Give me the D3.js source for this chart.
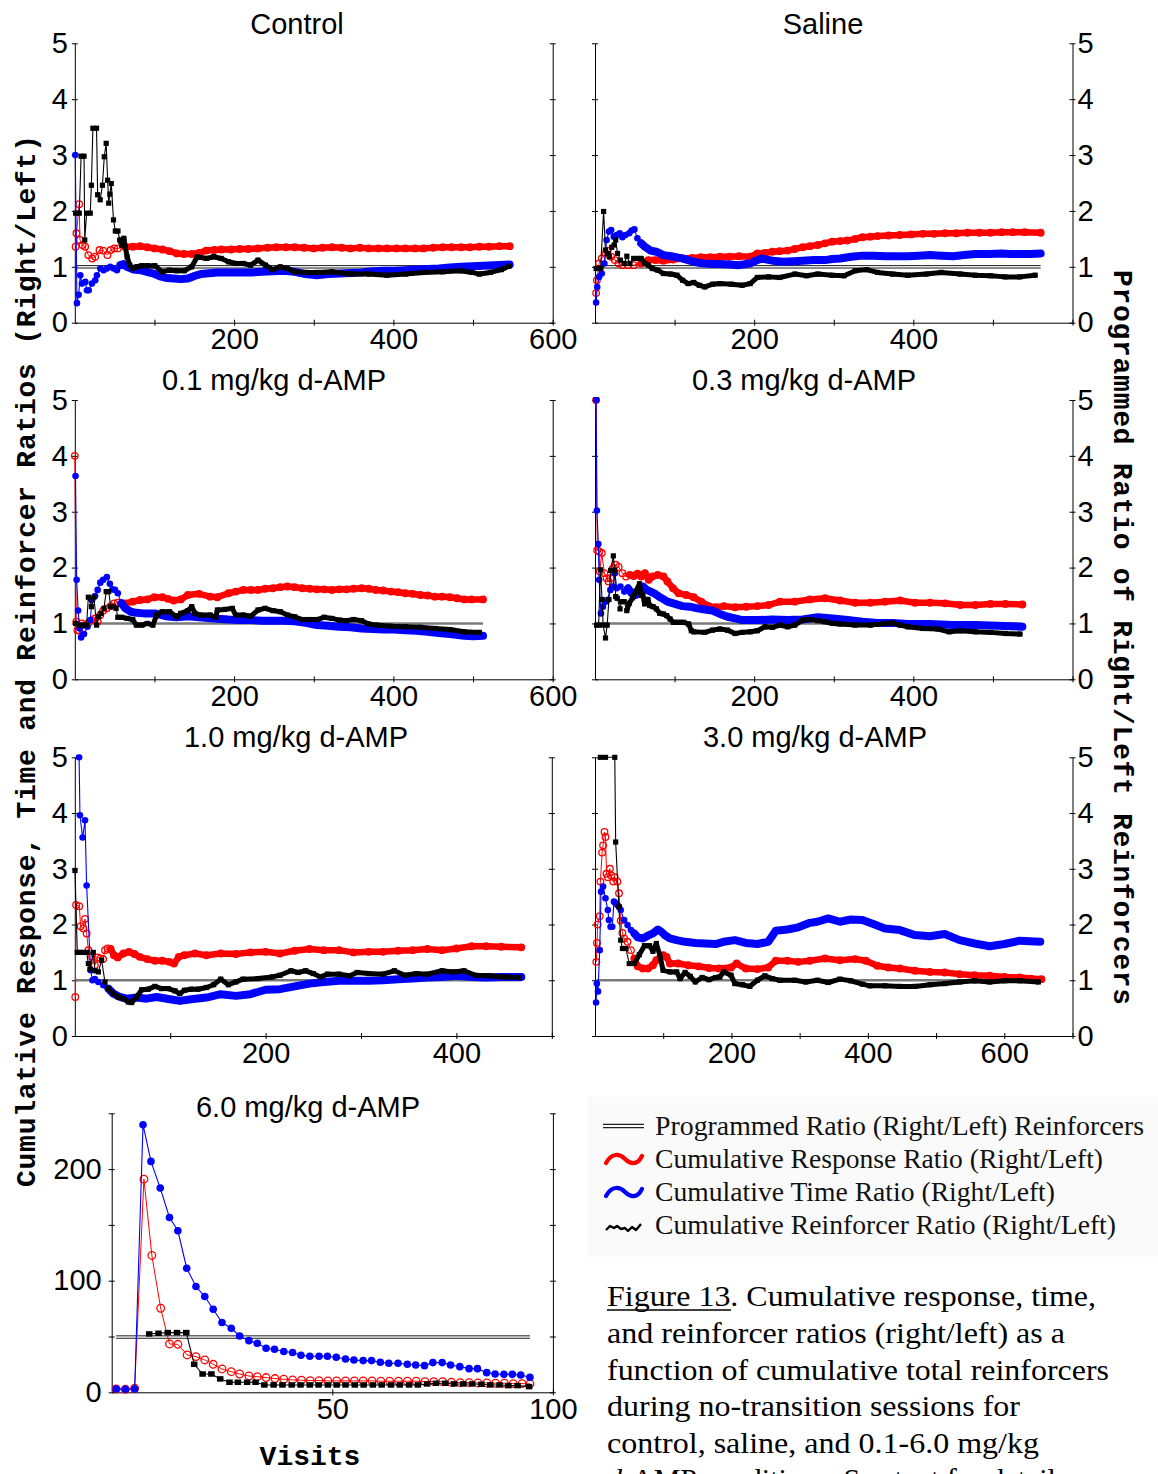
<!DOCTYPE html>
<html><head><meta charset="utf-8">
<script src="https://cdn.jsdelivr.net/npm/d3@7"></script>
<style>body{margin:0;background:#fff} svg{display:block}</style>
</head><body>
<svg id="c" width="1158" height="1474"></svg>
<script>
// ---------------- DATA ----------------
const panelTitles = ["Control","Saline","0.1 mg/kg d-AMP","0.3 mg/kg d-AMP","1.0 mg/kg d-AMP","3.0 mg/kg d-AMP","6.0 mg/kg d-AMP"];
const programmed = [1,1,1,1,1,1,49.5];
const xDomains = [[0,600],[0,600],[0,600],[0,600],[0,500],[0,700],[0,100]];
const yDomains = [[0,5],[0,5],[0,5],[0,5],[0,5],[0,5],[0,250]];
const xTickValues = [[100,200,300,400,500,600],[100,200,300,400,500,600],[100,200,300,400,500,600],[100,200,300,400,500,600],[100,200,300,400,500],[100,200,300,400,500,600,700],[50,100]];
const xTickLabels = [[200,400,600],[200,400],[200,400,600],[200,400],[200,400],[200,400,600],[50,100]];
const yTickValues = [[0,1,2,3,4,5],[0,1,2,3,4,5],[0,1,2,3,4,5],[0,1,2,3,4,5],[0,1,2,3,4,5],[0,1,2,3,4,5],[0,50,100,150,200,250]];
const yTickLabels = [[0,1,2,3,4,5],[0,1,2,3,4,5],[0,1,2,3,4,5],[0,1,2,3,4,5],[0,1,2,3,4,5],[0,1,2,3,4,5],[0,100,200]];

const ctrlResp = [[1,1.36],[2,1.6],[5.5,2.12],[6.5,1.48],[9.7,1.39],[13,1.36],[17,1.21],[21.8,1.15],[25.5,1.18],[31,1.3],[35.6,1.29],[41,1.21],[45,1.3],[49.5,1.33],[54,1.33],[63,1.36],[73,1.36],[82,1.37],[91,1.35],[100,1.33],[110,1.31],[119,1.28],[128,1.24],[137,1.23],[147,1.23],[156,1.25],[165,1.29],[175,1.3],[184,1.31],[196,1.31],[207,1.32],[218,1.32],[230,1.33],[242,1.34],[253,1.35],[265,1.35],[276,1.35],[288,1.34],[300,1.33],[311,1.34],[323,1.35],[335,1.34],[346,1.33],[358,1.34],[369,1.33],[381,1.33],[392,1.33],[404,1.33],[415,1.33],[427,1.33],[438,1.33],[450,1.34],[462,1.35],[473,1.35],[485,1.35],[496,1.35],[508,1.36],[520,1.36],[533,1.37],[546,1.37]];
const ctrlTime = [[0.6,3.0],[2.7,0.35],[4.8,0.5],[6.9,0.85],[9,0.7],[13.2,0.73],[15.3,0.58],[17.4,0.58],[21.5,0.7],[25.7,0.76],[27.8,0.85],[32,0.97],[36.2,0.94],[40.4,0.97],[44.5,1.0],[48.7,0.97],[52.9,0.94],[57.1,1.03],[61.3,1.05],[65.5,1.0],[73.8,0.95],[82.2,0.94],[90.6,0.91],[99,0.88],[107,0.83],[115,0.8],[124,0.79],[133,0.78],[142,0.79],[151,0.84],[158,0.87],[165,0.88],[179,0.9],[193,0.9],[207,0.9],[221,0.9],[235,0.91],[249,0.92],[262,0.93],[276,0.91],[290,0.87],[304,0.85],[318,0.87],[332,0.88],[346,0.89],[360,0.9],[374,0.92],[388,0.93],[401,0.93],[415,0.94],[429,0.95],[443,0.96],[457,0.97],[471,0.99],[485,1.0],[499,1.01],[513,1.02],[527,1.03],[546,1.04]];
const ctrlRein = [[1,1.96],[5.6,1.96],[7.9,2.98],[11.6,2.98],[12.5,1.48],[14.8,1.96],[19.4,1.96],[20.8,2.46],[22.7,3.48],[27.3,3.48],[28.7,2.29],[31.9,2.2],[34.7,2.46],[37,2.97],[39.4,3.21],[41.2,2.55],[42.6,2.14],[44,2.3],[45.8,2.49],[48.6,1.84],[50.9,1.64],[54.2,1.64],[56.5,1.48],[58.8,1.39],[61.6,1.51],[63.4,1.36],[65.7,1.18],[69,1.03],[72.7,0.97],[77.3,1.0],[84.3,1.02],[91.2,1.02],[100.5,1.02],[109.7,0.91],[119,0.94],[128.2,0.93],[137.5,0.93],[146.8,1.0],[153.7,1.18],[165.3,1.15],[174.5,1.18],[183.8,1.15],[193,1.09],[202.3,1.06],[211.6,1.06],[220.8,1.03],[230,1.12],[239.4,1.03],[248.6,0.95],[257.9,1.0],[267,0.97],[276.4,0.91],[290.3,0.9],[304.2,0.9],[322.7,0.91],[345.8,0.87],[369,0.87],[392,0.85],[415.3,0.87],[438.4,0.9],[461.6,0.91],[484.7,0.93],[498.6,0.9],[507.9,0.87],[521.8,0.9],[535.6,0.95],[545,1.01]];

const salResp = [[1.4,0.53],[2.4,0.76],[5.2,1.06],[8.5,1.15],[13.2,1.24],[15.6,1.29],[20.3,1.18],[25,1.12],[29.7,1.06],[34.4,1.03],[41.5,1.03],[48.6,1.03],[58,1.06],[67,1.12],[76,1.12],[86,1.11],[98,1.13],[110,1.15],[122,1.16],[133,1.17],[145,1.17],[157,1.18],[169,1.18],[181,1.19],[195,1.18],[204,1.24],[214,1.25],[223,1.27],[232,1.28],[242,1.29],[251,1.32],[261,1.35],[270,1.37],[280,1.39],[289,1.42],[298,1.45],[308,1.46],[317,1.47],[327,1.5],[336,1.53],[346,1.54],[355,1.55],[369,1.56],[383,1.57],[397,1.58],[412,1.59],[426,1.59],[440,1.6],[454,1.6],[468,1.61],[483,1.61],[497,1.61],[511,1.62],[525,1.62],[540,1.62],[560,1.61]];
const salTime = [[1.4,0.36],[2.8,0.64],[5.2,0.82],[8.5,0.88],[11.8,1.06],[14.6,1.48],[17.5,1.63],[20.3,1.66],[23.6,1.54],[27.4,1.57],[31,1.6],[34.4,1.53],[38.2,1.57],[43,1.6],[46,1.65],[49.5,1.67],[53.3,1.51],[58,1.42],[62.7,1.36],[70,1.29],[77,1.27],[86,1.21],[95.8,1.19],[103,1.17],[110,1.15],[117,1.12],[124,1.09],[131,1.07],[138,1.06],[148,1.05],[157,1.05],[169,1.04],[181,1.03],[190,1.05],[195,1.06],[202,1.11],[209,1.15],[216,1.13],[223,1.11],[230,1.1],[237,1.09],[249,1.1],[261,1.11],[275,1.12],[289,1.12],[298,1.14],[308,1.15],[322,1.18],[336,1.2],[350,1.2],[365,1.19],[379,1.19],[393,1.19],[407,1.2],[421,1.21],[435,1.2],[450,1.19],[464,1.21],[478,1.23],[495,1.23],[511,1.24],[522,1.23],[534,1.23],[547,1.23],[560,1.24]];
const salRein = [[1.4,0.97],[3.8,0.97],[7,0.97],[10.8,1.99],[13.2,1.3],[15.6,1.24],[18,1.18],[21,1.35],[24,1.39],[26,1.48],[28.3,1.24],[32,1.12],[36.8,1.06],[40,1.19],[43.9,1.06],[48.6,1.15],[53.3,1.15],[58,1.15],[62.7,1.06],[67,1.03],[72,0.97],[79,0.94],[86,0.88],[95,0.87],[103,0.85],[110,0.76],[117,0.7],[124,0.72],[131,0.67],[138,0.64],[148,0.69],[157,0.7],[171,0.69],[185,0.67],[195,0.7],[204,0.81],[218,0.82],[232,0.81],[251,0.87],[266,0.84],[280,0.87],[298,0.85],[313,0.84],[327,0.93],[341,0.95],[355,0.9],[374,0.87],[393,0.85],[416,0.87],[435,0.9],[459,0.87],[478,0.85],[497,0.84],[515,0.82],[534,0.82],[553,0.85]];

const d01Resp = [[0,4.0],[1.9,1.03],[3.2,0.88],[5.5,0.87],[8.8,1.0],[12.5,0.97],[17,1.01],[21.8,1.06],[25.5,1.09],[28.7,1.03],[32,1.15],[35.6,1.23],[40,1.27],[45,1.31],[49.5,1.36],[54,1.37],[63,1.36],[72.7,1.39],[82,1.42],[91,1.43],[100,1.47],[110,1.47],[117,1.44],[124,1.41],[133,1.43],[142,1.51],[156,1.53],[170,1.48],[179,1.47],[193,1.54],[202,1.57],[211.6,1.6],[221,1.6],[230,1.6],[239,1.62],[248.6,1.63],[258,1.65],[267,1.66],[276,1.65],[285.6,1.63],[295,1.62],[304,1.61],[313,1.61],[322.7,1.6],[332,1.61],[341,1.61],[350,1.62],[360,1.63],[369,1.62],[378,1.6],[387,1.59],[397,1.57],[406,1.56],[415,1.54],[424,1.53],[434,1.51],[443,1.5],[452,1.48],[461,1.48],[471,1.47],[480,1.45],[489,1.43],[498,1.43],[512.5,1.43]];
const d01Time = [[0.9,3.64],[2.3,1.78],[4.2,1.23],[6,0.91],[7.9,0.75],[11.6,0.81],[16,0.94],[19.4,1.06],[21.8,1.42],[25.5,1.49],[28.7,1.6],[32,1.73],[35.6,1.78],[40.3,1.83],[44,1.71],[47.2,1.61],[50.5,1.6],[54,1.54],[58.8,1.36],[63.4,1.27],[70.4,1.21],[77.3,1.19],[86.6,1.18],[100.5,1.18],[114,1.13],[128,1.11],[142,1.13],[156,1.11],[174.5,1.09],[193,1.07],[207,1.06],[221,1.06],[235,1.05],[248.6,1.05],[262,1.05],[276,1.04],[290,1.01],[304,0.97],[318,0.96],[332,0.94],[346,0.93],[360,0.91],[374,0.9],[387.5,0.89],[401,0.89],[415,0.88],[429,0.87],[443,0.85],[457,0.83],[471,0.81],[489,0.78],[500,0.77],[512.5,0.78]];
const d01Rein = [[1,1.0],[5.6,0.97],[10.2,0.97],[14.8,0.97],[17,1.47],[20.8,1.3],[24,1.47],[27.3,0.97],[30,1.12],[33,1.18],[36.6,1.27],[39.4,1.57],[42.6,1.57],[45,1.3],[48.6,1.3],[51.9,1.27],[54,1.11],[58.8,1.11],[65.7,1.09],[72.7,1.07],[77.3,0.97],[84.3,0.97],[91,1.0],[98,0.97],[102.8,1.15],[109.7,1.21],[119,1.21],[128,1.12],[133,1.18],[142,1.23],[146.8,1.3],[151,1.18],[158,1.15],[170,1.15],[177,1.11],[179,1.24],[188,1.25],[197.7,1.27],[202,1.15],[211.6,1.15],[221,1.13],[230,1.24],[239,1.27],[248.6,1.23],[258,1.21],[267,1.15],[276,1.12],[285.6,1.07],[295,1.07],[304,1.07],[313,1.11],[322.7,1.09],[332,1.06],[341,1.05],[350,1.07],[360,1.05],[369,0.99],[378,0.97],[397,0.95],[415,0.94],[434,0.93],[452,0.91],[471,0.89],[489,0.85],[508,0.84]];

const d03Resp = [[1.4,5.0],[2.8,2.31],[5.2,2.29],[6,1.93],[8.5,2.26],[11.8,1.9],[14.6,1.81],[17,1.75],[19.5,1.81],[22.6,1.99],[26,2.05],[29.7,2.01],[34.4,1.9],[39,1.84],[43.9,1.87],[48.6,1.85],[53.3,1.89],[58,1.84],[62.7,1.9],[67.5,1.78],[72,1.84],[79,1.87],[86,1.84],[91,1.75],[98,1.63],[105,1.54],[114.6,1.51],[124,1.47],[133.5,1.39],[143,1.31],[152,1.29],[162,1.31],[176,1.29],[190,1.3],[204,1.31],[218,1.33],[232.5,1.39],[251,1.39],[270,1.43],[289,1.45],[308,1.41],[327,1.37],[346,1.37],[364.6,1.39],[383.5,1.41],[402,1.37],[421,1.37],[440,1.36],[459,1.33],[478,1.33],[497,1.35],[515.6,1.35],[537,1.34]];
const d03Time = [[1.4,5.0],[2.4,3.02],[4.2,2.42],[5.2,1.78],[7.5,1.18],[10,1.3],[13.2,1.39],[15.6,1.42],[19.3,1.6],[22.6,1.66],[25,1.9],[27.4,1.63],[32,1.66],[36.8,1.57],[41.5,1.63],[46,1.54],[51,1.51],[55.7,1.61],[60.4,1.66],[65,1.6],[69.8,1.57],[74.5,1.54],[81.6,1.47],[91,1.39],[100.5,1.35],[110,1.31],[119,1.3],[128.8,1.27],[138,1.25],[147.6,1.23],[157,1.17],[166.5,1.12],[176,1.09],[185,1.06],[204,1.06],[223,1.07],[242,1.06],[261,1.07],[280,1.11],[298.6,1.09],[317.5,1.06],[336,1.03],[355,1.01],[374,1.01],[393,0.99],[421,0.99],[450,0.97],[478,0.97],[506,0.96],[537,0.94]];
const d03Rein = [[2,0.97],[4.6,0.97],[6.8,1.96],[8.9,1.43],[10.2,0.97],[13.2,0.74],[15.3,0.97],[17.5,1.43],[19.6,1.95],[23,2.21],[24.7,1.95],[26,1.48],[28,1.45],[31.5,1.26],[33.2,1.39],[36.7,1.39],[40,1.23],[43,1.36],[47.3,1.46],[51.6,1.58],[55.9,1.71],[58,1.5],[60,1.52],[62.3,1.35],[66.5,1.43],[68.7,1.32],[72.9,1.3],[77.2,1.26],[81.5,1.18],[85.7,1.17],[90,1.14],[94.3,1.08],[98.6,1.02],[105,1.02],[111.3,1.02],[117.7,0.99],[121,0.87],[124,0.85],[138,0.84],[147.6,0.88],[157,0.9],[166.5,0.88],[176,0.82],[185,0.84],[195,0.85],[204,0.87],[213.7,0.94],[223,0.93],[232.5,0.97],[242,0.94],[251,0.97],[261,1.06],[270,1.07],[280,1.05],[289,1.03],[298.6,1.0],[308,0.99],[327,0.97],[346,0.97],[364.6,1.0],[374,1.01],[383.5,0.97],[393,0.94],[412,0.91],[430.7,0.9],[445,0.85],[459,0.87],[478,0.85],[497,0.84],[515.6,0.82],[534,0.81]];

const d10Resp = [[0.5,0.7],[1.3,2.35],[4.7,2.33],[6.1,1.97],[9,1.93],[10.7,2.1],[12.4,1.84],[14.3,1.54],[18,1.42],[21,1.27],[24,1.41],[26.6,1.39],[29.7,1.38],[31.7,1.54],[34.4,1.57],[37.5,1.56],[41,1.45],[45,1.41],[51,1.48],[56.8,1.51],[62.5,1.47],[68,1.42],[76,1.38],[84,1.35],[91.5,1.35],[99,1.33],[104,1.3],[109,1.42],[114.7,1.45],[126,1.48],[138,1.45],[153,1.48],[169,1.47],[184,1.5],[200,1.51],[215,1.48],[230.5,1.53],[246,1.56],[261,1.54],[277,1.54],[292,1.5],[308,1.51],[323,1.51],[339,1.53],[354,1.54],[369.5,1.56],[385,1.54],[400,1.57],[416,1.61],[431,1.61],[447,1.6],[468,1.59]];
const d10Time = [[4.5,5.0],[5.4,3.96],[8.2,3.56],[10.7,3.87],[12.4,2.7],[16.6,1.18],[18.5,1.0],[21,1.02],[24.6,0.97],[29.9,0.91],[35.2,0.85],[40.4,0.76],[47.3,0.7],[54.3,0.67],[64.8,0.69],[75.3,0.67],[85.8,0.7],[99.7,0.66],[110,0.63],[122,0.66],[138,0.69],[153,0.75],[169,0.72],[184,0.75],[200,0.83],[215,0.84],[230.5,0.89],[246,0.94],[261,0.97],[277,0.99],[292,0.99],[308,0.99],[323,1.0],[339,1.02],[354,1.03],[369.5,1.05],[385,1.06],[400,1.08],[416,1.06],[431,1.05],[447,1.06],[468,1.06]];
const d10Rein = [[0.2,2.97],[2.6,1.5],[5.4,1.5],[8.9,1.5],[12.4,1.5],[14.2,1.3],[15.9,1.2],[19.4,1.5],[21.2,1.17],[24.7,1.15],[28.1,1.36],[31.6,0.97],[35.1,0.85],[40.4,0.76],[45.6,0.7],[50.9,0.67],[56.1,0.61],[59.6,0.6],[64.8,0.7],[70.1,0.83],[77,0.84],[84,0.89],[91,0.85],[98,0.85],[105,0.81],[110,0.76],[115,0.82],[122,0.84],[129,0.84],[138,0.87],[145.6,0.92],[153,1.02],[161,0.92],[169,0.97],[176.4,1.02],[192,1.03],[207,1.06],[215,1.09],[226.6,1.17],[234,1.14],[242,1.17],[250,1.12],[257.5,1.06],[265,1.11],[277,1.11],[288,1.08],[296,1.14],[308,1.12],[323,1.11],[335,1.17],[346,1.09],[358,1.12],[369.5,1.11],[385,1.17],[396.5,1.15],[408,1.17],[420,1.09],[435,1.08],[450.6,1.06],[466,1.05]];

const d30Resp = [[1.9,1.33],[2.9,1.67],[3.9,2.0],[6.9,2.15],[7.9,2.77],[10.4,3.29],[11.9,3.42],[13.9,3.66],[15.4,3.57],[16.9,2.91],[18.8,2.85],[21.8,3.0],[23.8,2.88],[26.8,2.77],[28.8,2.85],[32.8,2.77],[35.2,2.56],[37.7,2.07],[40.2,1.85],[42.7,1.75],[47.7,1.69],[52.7,1.54],[57.6,1.39],[62.6,1.25],[70,1.21],[77.5,1.21],[84.9,1.27],[89.9,1.36],[94.8,1.39],[99.8,1.45],[104.8,1.42],[109.8,1.3],[122,1.3],[137,1.27],[152,1.25],[167,1.22],[182,1.21],[199.5,1.23],[207.7,1.3],[221,1.21],[238,1.2],[254,1.23],[265,1.35],[282,1.35],[298,1.33],[315,1.35],[337,1.39],[359,1.36],[381,1.38],[397,1.35],[414,1.26],[430,1.23],[447,1.21],[469,1.17],[491,1.15],[512.6,1.14],[534.6,1.11],[556.6,1.09],[578.6,1.08],[600.5,1.06],[622.5,1.05],[639,1.03],[654.4,1.02]];
const d30Time = [[1.6,0.6],[2.7,0.94],[4.4,0.8],[6.9,1.54],[8.9,2.59],[11.9,2.68],[15.4,2.47],[18.8,2.26],[20.3,2.08],[22.8,1.96],[25.3,1.96],[27.8,2.41],[30.3,2.38],[32.8,2.35],[35.2,2.32],[37.7,2.26],[42.7,2.08],[47.7,1.99],[52.7,1.9],[57.6,1.84],[62.6,1.77],[70,1.75],[77.5,1.8],[84.9,1.84],[92.3,1.91],[97.3,1.87],[102.3,1.81],[109.8,1.75],[119.7,1.72],[132,1.69],[147,1.67],[162,1.66],[176.8,1.65],[188.5,1.69],[205,1.72],[221,1.67],[238,1.65],[254,1.69],[265,1.89],[282,1.91],[298,1.95],[315,2.03],[326,2.05],[342,2.11],[359,2.05],[375,2.09],[392,2.08],[408,2.01],[425,1.93],[447,1.9],[469,1.81],[491,1.79],[512.6,1.83],[534.6,1.72],[556.6,1.66],[578.6,1.61],[600.5,1.65],[622.5,1.71],[652.7,1.69]];
const d30Rein = [[7.9,5.0],[15.4,5.0],[29,5.0],[30.3,3.48],[35,2.32],[37.7,1.72],[40.2,1.57],[45.2,1.57],[50.2,1.3],[57.6,1.3],[65,1.46],[72.5,1.62],[80,1.62],[84.9,1.52],[89.9,1.66],[94.8,1.46],[99.8,1.18],[109.8,1.15],[119.7,1.15],[124.7,1.03],[132.1,1.14],[139.6,1.07],[147,0.97],[157,1.05],[167,1.01],[176.8,1.05],[183,1.06],[188.5,1.15],[199.5,1.09],[205,0.94],[216,0.92],[227,0.89],[238,1.0],[249,1.08],[260,1.03],[271,1.0],[293,1.0],[309,0.97],[326,1.0],[342,0.96],[359,1.02],[375,0.99],[392,0.93],[403,0.9],[425,0.9],[447,0.89],[469,0.89],[491,0.92],[512.6,0.94],[534.6,0.97],[556.6,0.99],[578.6,0.97],[600.5,0.99],[622.5,0.99],[650,0.97]];

const d60Resp = [[1,3],[3.1,2.7],[5.2,3.6],[7.3,191],[9.1,122.6],[11.1,75.3],[13.1,43.3],[15,43],[17.1,33.5],[19.1,32],[21.1,29],[23,25.1],[25,20.9],[27.1,18.5],[29,16.4],[31.1,14.6],[33,14],[35,13.2],[37,12.3],[39,11.7],[41,11.1],[43,10.8],[45,10.5],[47,10.5],[49,10.2],[51,10.2],[53,10.2],[55,10.2],[57,10.2],[59,10.2],[61,9.9],[63,9.9],[65,9.9],[67,9.9],[69,9.9],[71,9.6],[73,9.6],[75,9.6],[77,9.0],[79,8.7],[81,8.7],[83,8.4],[85,8.4],[87,8.1],[89,8.1],[91,7.8],[93,7.8],[94.8,7.5]];
const d60Time = [[1,3],[3.1,2.7],[5.2,3],[7.1,239.8],[8.9,206.9],[11,183],[13.1,156.6],[15,144.7],[17,111.2],[19.1,94.8],[21.1,85.8],[23,74.4],[25,62.5],[27.1,57.4],[29,50.5],[31.1,46.3],[33,43.9],[35,39.5],[36.9,38.6],[39,36.5],[41,35.6],[42.9,33.2],[44.9,32.3],[47,32.3],[48.9,32.3],[50.9,31.4],[53,29.9],[54.9,29],[57,28.4],[58.9,28.4],[60.9,26.9],[62.8,26],[64.9,26],[67,25.1],[68.9,24.5],[70.9,23.9],[72.8,26.6],[74.9,26.6],[76.8,24.5],[78.9,23],[81,21.2],[82.9,21.2],[85,17.6],[86.9,16.4],[88.9,16.1],[90.8,16.1],[92.7,15.5],[94.8,13.5]];
const d60Rein = [[8.5,52.3],[10.6,52.9],[12.7,53.5],[14.8,53.5],[16.9,53.5],[18.7,25.1],[20.6,16.4],[22.6,16.4],[24.6,12],[26.7,9],[28.6,9],[30.7,9],[32.6,9],[34.6,6.6],[36.7,6.6],[38.7,6.6],[40.8,6.6],[42.8,6.6],[44.9,6.6],[46.9,6.6],[49,6.6],[51,6.6],[53,6.6],[55.1,6.6],[57.1,6.6],[59.2,6.6],[61.2,6.6],[63.3,6.6],[65.3,6.6],[67.4,6.6],[69.4,6.6],[71.5,7.5],[73.5,8.1],[75.6,8.1],[77.6,7.5],[79.7,7.5],[81.7,7.5],[83.8,7.2],[85.8,6.6],[87.9,6.6],[89.9,6.0],[92,6.0],[94.6,5.1]];

const respSeries = [ctrlResp, salResp, d01Resp, d03Resp, d10Resp, d30Resp, d60Resp];
const timeSeries = [ctrlTime, salTime, d01Time, d03Time, d10Time, d30Time, d60Time];
const reinSeries = [ctrlRein, salRein, d01Rein, d03Rein, d10Rein, d30Rein, d60Rein];

const legendLabels = ["Programmed Ratio (Right/Left) Reinforcers","Cumulative Response Ratio (Right/Left)","Cumulative Time Ratio (Right/Left)","Cumulative Reinforcer Ratio (Right/Left)"];
const leftAxisLabel = "Cumulative Response, Time and Reinforcer Ratios (Right/Left)";
const rightAxisLabel = "Programmed Ratio of Right/Left Reinforcers";
const xAxisLabel = "Visits";

// ---------------- LAYOUT / STYLE ----------------
const layout = [
  {x0:74.8, x1:552.7, yTop:43.3, yBot:322.7, side:"left",  tx:297, ty:34,   prog:"double", band:55, big:false},
  {x0:595,  x1:1072.5,yTop:43.3, yBot:322.7, side:"right", tx:823, ty:34,   prog:"double", band:55, big:false},
  {x0:74.8, x1:552.7, yTop:400,  yBot:679.3, side:"left",  tx:274, ty:390,  prog:"gray",   band:55, big:false},
  {x0:595,  x1:1072.5,yTop:400,  yBot:679.3, side:"right", tx:804, ty:390,  prog:"gray",   band:40, big:false},
  {x0:74.8, x1:551.8, yTop:757.3,yBot:1036,  side:"left",  tx:296, ty:747,  prog:"gray",   band:35, big:false},
  {x0:595,  x1:1072.5,yTop:757.3,yBot:1036,  side:"right", tx:815, ty:747,  prog:"gray",   band:55, big:false},
  {x0:111.7,x1:552.9, yTop:1113.3,yBot:1392.3,side:"left", tx:308, ty:1117, prog:"double", band:Infinity, big:true}
];
const RED = "#ff0000", BLUE = "#0000ff", BLACK = "#000000";
const SANS = "'Liberation Sans', Arial, sans-serif";
const MONO = "'Liberation Mono', 'Courier New', monospace";
const SERIF = "'Liberation Serif', 'Times New Roman', serif";

const svg = d3.select("#c");
const defs = svg.append("defs");

function drawPanel(i) {
  const L = layout[i];
  const x = d3.scaleLinear().domain(xDomains[i]).range([L.x0, L.x1]);
  const y = d3.scaleLinear().domain(yDomains[i]).range([L.yBot, L.yTop]);
  const g = svg.append("g");
  const cid = "clip" + i;
  defs.append("clipPath").attr("id", cid).append("rect")
    .attr("x", L.x0 - 5).attr("y", L.yTop - 3).attr("width", L.x1 - L.x0 + 10).attr("height", L.yBot - L.yTop + 8);

  const xAxis = d3.axisBottom(x).tickValues(xTickValues[i])
    .tickFormat(v => xTickLabels[i].includes(v) ? String(v) : "")
    .tickSizeInner(3).tickSizeOuter(0).tickPadding(3);
  const gx = g.append("g").attr("transform", `translate(0,${L.yBot})`).call(xAxis);
  gx.selectAll(".tick line").attr("y1", -3).attr("y2", 3);

  const yl = d3.axisLeft(y).tickValues(yTickValues[i]).tickSizeInner(3).tickSizeOuter(0)
    .tickPadding(L.big ? 7 : 4)
    .tickFormat(v => (L.side === "left" && yTickLabels[i].includes(v)) ? String(v) : "");
  const gyl = g.append("g").attr("transform", `translate(${L.x0},0)`).call(yl);
  gyl.selectAll(".tick line").attr("x1", -3).attr("x2", 3);

  const yr = d3.axisRight(y).tickValues(yTickValues[i]).tickSizeInner(3).tickSizeOuter(0).tickPadding(2)
    .tickFormat(v => (L.side === "right" && yTickLabels[i].includes(v)) ? String(v) : "");
  const gyr = g.append("g").attr("transform", `translate(${L.x1},0)`).call(yr);
  gyr.selectAll(".tick line").attr("x1", -3).attr("x2", 3);

  [gx, gyl, gyr].forEach(a => {
    a.attr("font-family", SANS).attr("font-size", 29);
    a.selectAll("text").attr("fill", "#000");
    a.selectAll("line,path").attr("stroke", "#000").attr("stroke-width", 1);
  });

  g.append("text").attr("x", L.tx).attr("y", L.ty).attr("text-anchor", "middle")
    .attr("font-family", SANS).attr("font-size", 29).text(panelTitles[i]);

  const plot = g.append("g").attr("clip-path", `url(#${cid})`);
  const line = d3.line().x(d => x(d[0])).y(d => y(d[1]));

  const all = respSeries[i].concat(timeSeries[i], reinSeries[i]);
  const xmin = d3.min(respSeries[i], d => d[0]);
  const xmax = d3.max(all, d => d[0]);
  const progPts = [[xmin, programmed[i]], [xmax, programmed[i]]];
  if (L.prog === "double") {
    [-1.2, 1.2].forEach(off => {
      plot.append("path").datum(progPts).attr("d", line).attr("transform", `translate(0,${off})`)
        .attr("fill", "none").attr("stroke", "#000").attr("stroke-width", 0.9);
    });
  } else {
    plot.append("path").datum(progPts).attr("d", line)
      .attr("fill", "none").attr("stroke", "#7a7a7a").attr("stroke-width", 2.6);
  }

  const rr = L.big ? 3.8 : 3.3;
  function series(data, color, kind, bandW) {
    const late = data.filter(d => d[0] >= L.band);
    if (late.length > 1) {
      plot.append("path").datum(late).attr("d", line).attr("fill", "none")
        .attr("stroke", color).attr("stroke-width", bandW)
        .attr("stroke-linejoin", "round").attr("stroke-linecap", "round");
    }
    plot.append("path").datum(data).attr("d", line).attr("fill", "none")
      .attr("stroke", color).attr("stroke-width", kind === "open" ? 1 : 1.1);
    if (kind === "open") {
      plot.selectAll(null).data(data).join("circle")
        .attr("cx", d => x(d[0])).attr("cy", d => y(d[1])).attr("r", rr)
        .attr("fill", "none").attr("stroke", color).attr("stroke-width", 1.3);
    } else if (kind === "dot") {
      plot.selectAll(null).data(data).join("circle")
        .attr("cx", d => x(d[0])).attr("cy", d => y(d[1])).attr("r", rr).attr("fill", color);
    } else {
      const w = L.big ? 6.5 : 5.2, h = L.big ? 5.5 : 5.2;
      plot.selectAll(null).data(data).join("rect")
        .attr("x", d => x(d[0]) - w / 2).attr("y", d => y(d[1]) - h / 2)
        .attr("width", w).attr("height", h).attr("fill", color);
    }
  }
  series(respSeries[i], RED, "open", 6.5);
  series(timeSeries[i], BLUE, "dot", 8);
  series(reinSeries[i], BLACK, "square", 5);
}

for (let i = 0; i < 7; i++) drawPanel(i);

svg.append("text").attr("transform", "translate(35,661) rotate(-90)").attr("text-anchor", "middle")
  .attr("font-family", MONO).attr("font-weight", "bold").attr("font-size", 28)
  .attr("textLength", 1052).attr("lengthAdjust", "spacing").text(leftAxisLabel);
svg.append("text").attr("transform", "translate(1114,637.5) rotate(90)").attr("text-anchor", "middle")
  .attr("font-family", MONO).attr("font-weight", "bold").attr("font-size", 28)
  .attr("textLength", 735).attr("lengthAdjust", "spacing").text(rightAxisLabel);
svg.append("text").attr("x", 310).attr("y", 1465).attr("text-anchor", "middle")
  .attr("font-family", MONO).attr("font-weight", "bold").attr("font-size", 28).text(xAxisLabel);

const lg = svg.append("g");
lg.append("rect").attr("x", 588).attr("y", 1097).attr("width", 570).attr("height", 160).attr("fill", "#fafafa");
const legendY = [1135, 1168, 1201, 1234];
const legendW = [489, 448, 400, 461];
legendLabels.forEach((t, k) => {
  lg.append("text").attr("x", 655).attr("y", legendY[k]).attr("font-family", SERIF).attr("font-size", 27)
    .attr("fill", "#111").attr("textLength", legendW[k]).attr("lengthAdjust", "spacingAndGlyphs").text(t);
});
[-1.6, 1.6].forEach(off => lg.append("line").attr("x1", 603).attr("x2", 644)
  .attr("y1", 1126 + off).attr("y2", 1126 + off).attr("stroke", "#222").attr("stroke-width", 1.2));
lg.append("path").attr("d", "M606,1163 C612,1152 620,1154 625,1159 S637,1166 642,1156")
  .attr("fill", "none").attr("stroke", RED).attr("stroke-width", 4.2).attr("stroke-linecap", "round");
lg.append("path").attr("d", "M606,1196 C612,1185 620,1187 625,1192 S637,1199 642,1189")
  .attr("fill", "none").attr("stroke", BLUE).attr("stroke-width", 4.2).attr("stroke-linecap", "round");
lg.append("path").attr("d", "M606,1230 l4,-4 l4,2 l3,-2 l4,3 l4,-1 l3,3 l4,-4 l4,3 l5,-6")
  .attr("fill", "none").attr("stroke", BLACK).attr("stroke-width", 2.4).attr("stroke-linejoin", "round");

const captionLines = [
  {t: "and reinforcer ratios (right/left) as a", y: 1343, w: 458},
  {t: "function of cumulative total reinforcers", y: 1380, w: 502},
  {t: "during no-transition sessions for", y: 1416, w: 413},
  {t: "control, saline, and 0.1-6.0 mg/kg", y: 1453, w: 432}
];
const cap = svg.append("g").attr("font-family", SERIF).attr("font-size", 30).attr("fill", "#000");
const l1 = cap.append("text").attr("x", 607).attr("y", 1306).attr("textLength", 489).attr("lengthAdjust", "spacingAndGlyphs");
l1.append("tspan").text("Figure 13");
l1.append("tspan").text(". Cumulative response, time,");
cap.append("line").attr("x1", 607).attr("x2", 731).attr("y1", 1310).attr("y2", 1310).attr("stroke", "#000").attr("stroke-width", 1.5);
captionLines.forEach(c => {
  cap.append("text").attr("x", 607).attr("y", c.y).attr("textLength", c.w).attr("lengthAdjust", "spacingAndGlyphs").text(c.t);
});
const l6 = cap.append("text").attr("x", 607).attr("y", 1489);
l6.append("tspan").attr("font-style", "italic").text("d");
l6.append("tspan").text("-AMP conditions. See text for details.");
</script>
</body></html>
